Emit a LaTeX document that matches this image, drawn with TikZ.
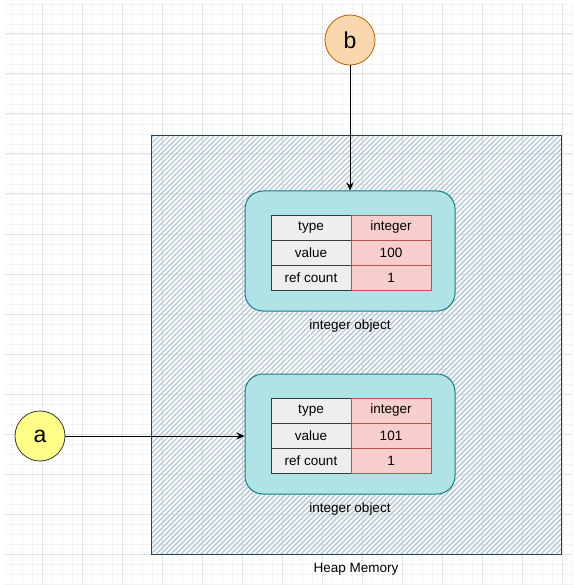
\documentclass[tikz,border=0pt]{standalone}
\usepackage{fontspec}
\setmainfont{Liberation Sans}
\usetikzlibrary{arrows.meta}
\definecolor{gridminor}{HTML}{F3F3F3}
\definecolor{gridmajor}{HTML}{E3E3E3}
\definecolor{hatchcol}{HTML}{B8C7D5}
\definecolor{heapline}{HTML}{23445D}
\definecolor{objfill}{HTML}{B0E3E6}
\definecolor{objline}{HTML}{0E8088}
\definecolor{keyfill}{HTML}{EEEEEE}
\definecolor{keyline}{HTML}{36393D}
\definecolor{valfill}{HTML}{F8CECC}
\definecolor{valline}{HTML}{B85450}
\definecolor{bfill}{HTML}{FAD7AC}
\definecolor{bline}{HTML}{B46504}
\definecolor{afill}{HTML}{FFFF88}
\tikzset{
  var/.style={circle, draw, line width=0.8pt, minimum size=50pt, inner sep=0pt, font=\fontsize{23}{25}\selectfont},
  objbox/.style={draw=objline, fill=objfill, line width=1pt, rounded corners=18pt, minimum width=210pt, minimum height=120pt},
  keycell/.style={draw=keyline, fill=keyfill, line width=0.8pt, minimum width=80pt, minimum height=25pt, inner sep=0pt, font=\fontsize{13.5}{15}\selectfont},
  valcell/.style={keycell, draw=valline, fill=valfill},
  caption/.style={font=\fontsize{13.5}{15}\selectfont, inner sep=0pt},
  ptr/.style={line width=0.9pt, -{Stealth[length=8pt, width=7pt]}}
}
\begin{document}
\begin{tikzpicture}[x=1pt, y=-1pt]
    \useasboundingbox (0,0) rectangle (573,585);
    \fill[white] (0,0) rectangle (573,585);

    % background grid
    \begin{scope}
    \clip (5,4) rectangle (573,585);
    \foreach \x in {2,12,...,572} \draw[gridminor, line width=0.8pt] (\x,0) -- (\x,585);
    \foreach \y in {4,14,...,584} \draw[gridminor, line width=0.8pt] (0,\y) -- (573,\y);
    \foreach \x in {2,42,...,572} \draw[gridmajor, line width=1pt] (\x,0) -- (\x,585);
    \foreach \y in {34,74,...,584} \draw[gridmajor, line width=1pt] (0,\y) -- (573,\y);
    \end{scope}

    % heap area
    \begin{scope}
    \clip (151,136) rectangle (561,554);
    \foreach \x in {-280,-275,...,565} \draw[hatchcol, line width=1.4pt] (\x,560) -- ++(430,-430);
    \end{scope}
    \node[draw=heapline, line width=1pt, minimum width=410pt, minimum height=418pt, inner sep=0pt] (heap) at (356,345) {};
    \node[caption] (heaplbl) at (356,569) {Heap Memory};

    % integer objects
    \foreach \n/\t/\v in {1/191/100, 2/374/101} {
      \node[objbox] (obj\n) at (350,\t+60) {};
      \node[keycell] (type\n) at (311,\t+36.5) {type};
      \node[valcell] (typev\n) at (391,\t+36.5) {integer};
      \node[keycell] (value\n) at (311,\t+61.5) {value};
      \node[valcell] (valuev\n) at (391,\t+61.5) {\v};
      \node[keycell] (ref\n) at (311,\t+86.5) {ref count};
      \node[valcell] (refv\n) at (391,\t+86.5) {1};
      \node[caption] (lbl\n) at (350,\t+135) {integer object};
    }

    % variables
    \node[var, draw=bline, fill=bfill] (b) at (350,40) {b};
    \node[var, draw=keyline, fill=afill] (a) at (40,436) {a};

    \draw[ptr] (b) -- (obj1.north);
    \draw[ptr] (a) -- (a -| obj2.west);
\end{tikzpicture}
\end{document}
